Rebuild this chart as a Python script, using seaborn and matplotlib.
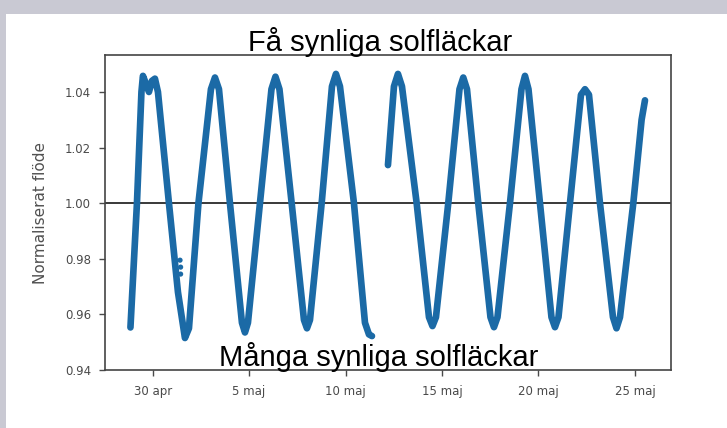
import numpy as np
import pandas as pd
import matplotlib
matplotlib.use("Agg")
import matplotlib.pyplot as plt
import seaborn as sns
from matplotlib.patches import Rectangle

# ---- data ----
# days since 30 apr, normalised flux
seg1_days = [-1.151, -0.814, -0.581, -0.503, -0.347, -0.192, -0.036, 0.119, 0.275,
             0.845, 1.312, 1.674, 1.882, 2.374, 3.022, 3.230, 3.437, 4.007, 4.629,
             4.785, 4.940, 5.562, 6.159, 6.366, 6.573, 7.206, 7.844, 7.999, 8.155,
             8.761, 9.295, 9.502, 9.710, 10.435, 11.006, 11.213, 11.369]
seg1_flux = [0.9553, 1.000, 1.040, 1.0458, 1.043, 1.040, 1.044, 1.0448, 1.040,
             1.000, 0.968, 0.9515, 0.955, 1.000, 1.041, 1.0452, 1.041, 1.000, 0.957,
             0.9535, 0.957, 1.000, 1.041, 1.0455, 1.041, 1.000, 0.958, 0.9550, 0.958,
             1.000, 1.042, 1.0465, 1.042, 1.000, 0.957, 0.9528, 0.9522]
seg2_days = [12.198, 12.509, 12.716, 12.924, 13.686, 14.324, 14.505, 14.686, 15.324,
             15.905, 16.102, 16.294, 16.879, 17.512, 17.693, 17.875, 18.523, 19.119,
             19.300, 19.482, 20.078, 20.674, 20.855, 21.037, 21.633, 22.203, 22.411,
             22.618, 23.188, 23.862, 24.044, 24.225, 24.915, 25.346, 25.521]
seg2_flux = [1.0137, 1.042, 1.0465, 1.042, 1.000, 0.959, 0.9558, 0.959, 1.000,
             1.041, 1.0452, 1.041, 1.000, 0.959, 0.9554, 0.959, 1.000, 1.041,
             1.0458, 1.041, 1.000, 0.959, 0.9554, 0.959, 1.000, 1.039, 1.0410,
             1.039, 1.000, 0.959, 0.9550, 0.959, 1.000, 1.030, 1.0370]
stray_days = [1.42, 1.45, 1.45]
stray_flux = [0.9795, 0.9770, 0.9745]

tick_dates = ["2019-04-30", "2019-05-05", "2019-05-10", "2019-05-15", "2019-05-20", "2019-05-25"]
tick_labels = ["30 apr", "5 maj", "10 maj", "15 maj", "20 maj", "25 maj"]
y_ticks = [0.94, 0.96, 0.98, 1.00, 1.02, 1.04]

start = pd.Timestamp("2019-04-30")
def to_time(d):
    return start + pd.to_timedelta(np.asarray(d), unit="D")

df1 = pd.DataFrame({"t": to_time(seg1_days), "flux": seg1_flux})
df2 = pd.DataFrame({"t": to_time(seg2_days), "flux": seg2_flux})
df3 = pd.DataFrame({"t": to_time(stray_days), "flux": stray_flux})

W, H = 727, 428
fig = plt.figure(figsize=(W / 100, H / 100), dpi=100)
fig.patch.set_facecolor("#c9c9d3")
fig.patches.append(Rectangle((6 / W, 0), (W - 6) / W, (H - 14) / H,
                             transform=fig.transFigure, facecolor="white",
                             edgecolor="none", zorder=-10))

ax = fig.add_axes([105 / W, 1 - 370 / H, (671 - 105) / W, (370 - 55) / H])
ax.set_zorder(1)
ax.set_facecolor("white")

blue = "#1b6aa6"
for d in (df1, df2):
    sns.lineplot(data=d, x="t", y="flux", ax=ax, color=blue, linewidth=4.8,
                 sort=False, estimator=None)
for line in ax.lines:
    line.set_solid_joinstyle("round")
    line.set_solid_capstyle("round")
sns.scatterplot(data=df3, x="t", y="flux", ax=ax, color=blue, s=14,
                edgecolor="none")

ax.axhline(1.0, color="#2a2a2a", linewidth=1.3, zorder=1)

ax.set_xlim(start + pd.Timedelta(days=-2.47), start + pd.Timedelta(days=26.87))
ax.set_ylim(0.94, 1.0533)
ax.set_yticks(y_ticks)
ax.set_yticklabels([f"{v:.2f}" for v in y_ticks])
ax.set_xticks(pd.to_datetime(tick_dates))
ax.set_xticklabels(tick_labels)

ax.set_xlabel("")
ax.set_ylabel("Normaliserat flöde", fontsize=11, color="#505050", labelpad=12)
ax.tick_params(axis="both", labelsize=8.5, colors="#4a4a4a", length=4, width=1)
ax.tick_params(axis="x", pad=7)
ax.tick_params(axis="y", pad=6)
for s in ax.spines.values():
    s.set_color("#444444")
    s.set_linewidth(1.2)

fig.text(380 / W, 1 - 51 / H, "Få synliga solfläckar", ha="center", va="baseline",
         fontsize=21, family="Liberation Sans", color="black", zorder=5)
fig.text(379 / W, 1 - 366 / H, "Många synliga solfläckar", ha="center", va="baseline",
         fontsize=21, family="Liberation Sans", color="black", zorder=5)

fig.savefig("out.png", dpi=100)
